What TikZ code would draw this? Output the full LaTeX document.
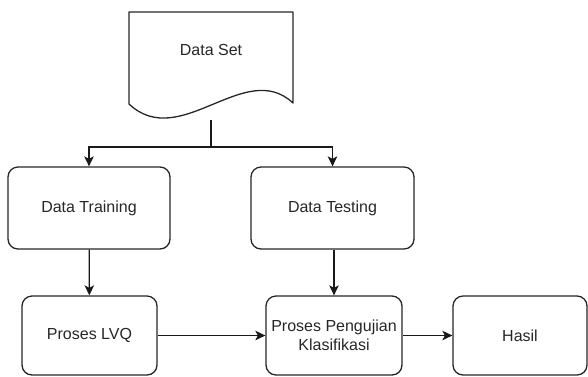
\documentclass[tikz,border=0pt]{standalone}
\usepackage{fontspec}
\setmainfont{Liberation Sans}
\usetikzlibrary{arrows.meta}
\begin{document}
\begin{tikzpicture}[x=1pt,y=-1pt,
  line width=1.3pt,
  every node/.style={font=\fontsize{16}{19}\selectfont, text=black!85},
  procbox/.style={draw=black!85, rounded corners=10pt, align=center, inner sep=0pt},
  flow/.style={draw=black!90, -{Stealth[length=10pt,width=9.5pt,inset=2.5pt]}}]
  \useasboundingbox (0,0) rectangle (588,376);

  % document shape (wavy bottom)
  \node (ds) at (211,50) {Data Set};
  \draw[draw=black!85, line join=round]
    (129,104) -- (129,12) -- (293,12) -- (293,103)
    .. controls (245,58) and (180,152) .. cycle;
  \coordinate (dsb) at (211,120);
  \coordinate (split) at (211,147);

  % process boxes
  \node[procbox, minimum width=162pt, minimum height=82pt] (train) at (89,208) {Data Training};
  \node[procbox, minimum width=163pt, minimum height=82pt] (test) at (332.5,208) {Data Testing};
  \node[procbox, minimum width=135pt, minimum height=79pt] (lvq) at (89.5,335.5) {Proses LVQ};
  \node[procbox, minimum width=136pt, minimum height=79pt] (uji) at (334,335.5) {Proses Pengujian\\Klasifikasi};
  \node[procbox, minimum width=134pt, minimum height=79pt] (hasil) at (520,335.5) {Hasil};

  % connectors
  \draw[draw=black!90] (dsb) -- (split);
  \draw[flow] (split) -| (train.north);
  \draw[flow] (split) -| (test.north);
  \draw[flow] (train) -- (lvq);
  \draw[flow] (test.south -| uji.north) -- (uji.north);
  \draw[flow] (lvq) -- (uji);
  \draw[flow] (uji) -- (hasil);
\end{tikzpicture}
\end{document}
